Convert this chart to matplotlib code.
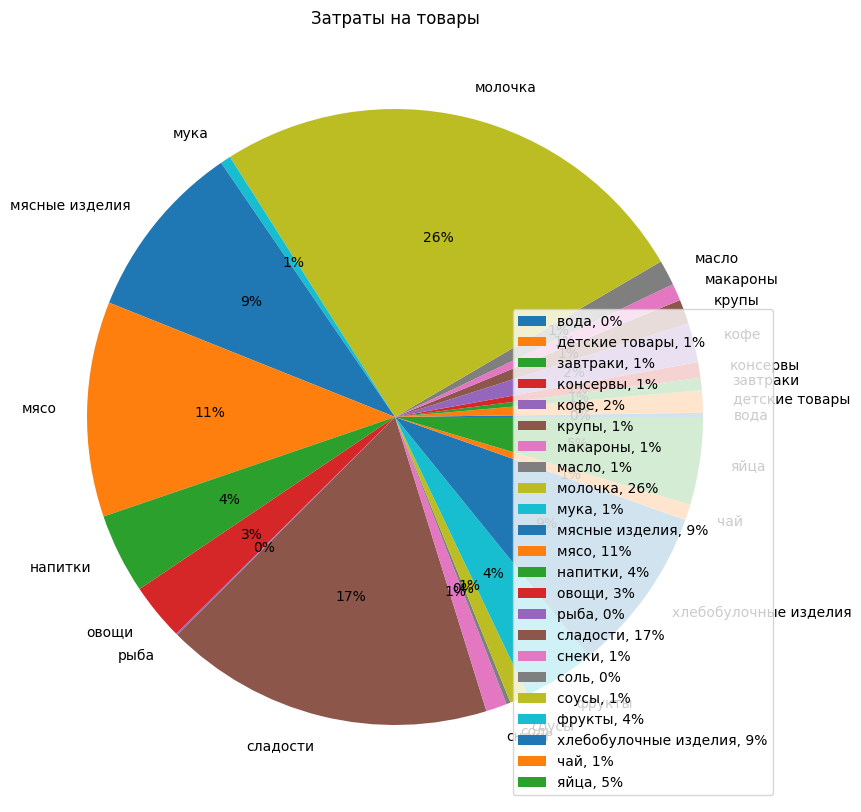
import matplotlib
matplotlib.use("Agg")
import matplotlib.pyplot as plt

# Категории затрат (по алфавиту) и доли, %
categories = [
    "вода", "детские товары", "завтраки", "консервы", "кофе", "крупы",
    "макароны", "масло", "молочка", "мука", "мясные изделия", "мясо",
    "напитки", "овощи", "рыба", "сладости", "снеки", "соль", "соусы",
    "фрукты", "хлебобулочные изделия", "чай", "яйца",
]
costs = [
    0.22, 1.17, 0.64, 0.83, 2.06, 1.28,
    0.90, 1.33, 25.6, 0.55, 9.4, 11.3,
    4.2, 3.0, 0.08, 17.3, 1.1, 0.22, 0.97,
    3.75, 8.75, 0.83, 4.6,
]

total = sum(costs)
legend_labels = [f"{c}, {v / total * 100:.0f}%" for c, v in zip(categories, costs)]

fig, ax = plt.subplots(figsize=(10, 10))
ax.pie(costs, labels=categories, autopct="%1.0f%%")
ax.set_title("Затраты на товары")
ax.legend(legend_labels, loc="lower right")
fig.savefig("out.png", dpi=100, bbox_inches="tight")
